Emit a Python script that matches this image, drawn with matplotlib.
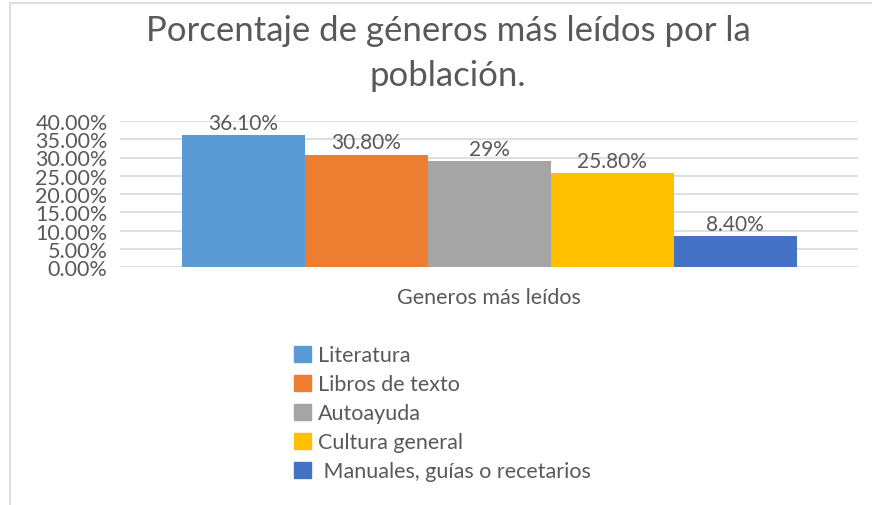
import matplotlib.pyplot as plt
from matplotlib.patches import Patch
from matplotlib.lines import Line2D
from matplotlib.ticker import FuncFormatter

plt.rcParams['font.family'] = ['Lato', 'DejaVu Sans']

# datos
generos = ["Literatura", "Libros de texto", "Autoayuda", "Cultura general",
           " Manuales, guías o recetarios"]
valores = [36.1, 30.8, 29.0, 25.8, 8.4]
etiquetas = ["36.10%", "30.80%", "29%", "25.80%", "8.40%"]
colores = ["#5B9BD5", "#ED7D31", "#A5A5A5", "#FFC000", "#4472C4"]
texto = "#595959"

fig = plt.figure(figsize=(8.72, 5.06), dpi=100)
ax = fig.add_axes([120 / 872, 1 - 268 / 506, 738 / 872, 146 / 506])

xs = range(len(valores))
ax.bar(xs, valores, width=1.0, color=colores, zorder=3)
for x, v, t in zip(xs, valores, etiquetas):
    ax.text(x, v + 0.6, t, ha="center", va="bottom", fontsize=15, color=texto)

ax.set_xlim(-1.0, 5.0)
ax.set_ylim(0, 40)
ax.set_yticks(range(0, 41, 5))
ax.yaxis.set_major_formatter(FuncFormatter(lambda v, p: "%.2f%%" % v))
ax.tick_params(axis="y", length=0, pad=9, labelsize=15.5, labelcolor=texto)
ax.set_xticks([])
ax.grid(axis="y", color="#D9D9D9", linewidth=1.2, zorder=0)
for s in ax.spines.values():
    s.set_visible(False)

fig.text(489 / 872, 1 - 298 / 506, "Generos más leídos", ha="center", va="center",
         fontsize=15.5, color=texto)
fig.text(448 / 872, 1 - 31 / 506, "Porcentaje de géneros más leídos por la",
         ha="center", va="center", fontsize=25, color=texto)
fig.text(448 / 872, 1 - 76 / 506, "población.",
         ha="center", va="center", fontsize=25, color=texto)

handles = [Patch(facecolor=c, edgecolor=c) for c in colores]
fig.legend(handles, generos, loc="upper left", bbox_to_anchor=(277 / 872, 1 - 329 / 506),
           frameon=False, fontsize=15.5, labelcolor=texto, handlelength=0.8,
           handleheight=0.8, handletextpad=0.3, labelspacing=0.42, borderpad=0.3)

# borde del gráfico
fig.add_artist(Line2D([10 / 872, 10 / 872], [0, 1 - 4 / 506], color="#D9D9D9", lw=1.2))
fig.add_artist(Line2D([10 / 872, 1], [1 - 4 / 506, 1 - 4 / 506], color="#D9D9D9", lw=1.2))

fig.savefig("out.png", dpi=100)
